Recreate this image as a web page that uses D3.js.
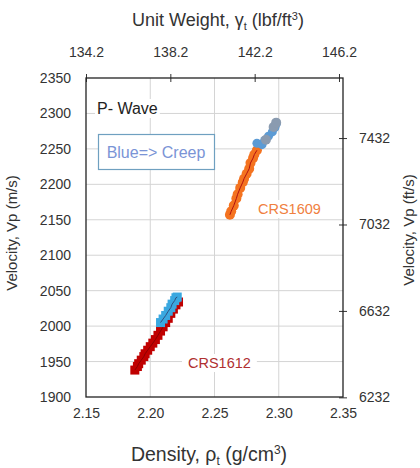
<!DOCTYPE html>
<html>
<head>
<meta charset="utf-8">
<script src="https://cdn.jsdelivr.net/npm/d3@7"></script>
<style>
  body { margin: 0; background: #fff; }
  text { font-family: "Liberation Sans", Arial, sans-serif; fill: #333; }
  .grid line { stroke: #d4d4d4; stroke-width: 1; }
  .frame { fill: none; stroke: #222; stroke-width: 1.3; }
</style>
</head>
<body>
<script>
// density (g/cm3) vs P-wave velocity (m/s)
let crs1612 = [
  [2.188, 1938], [2.190, 1943], [2.191, 1947], [2.193, 1952], [2.195, 1957],
  [2.196, 1961], [2.198, 1966], [2.200, 1971], [2.202, 1976], [2.204, 1981],
  [2.206, 1987], [2.208, 1993], [2.210, 1999], [2.212, 2005], [2.214, 2011],
  [2.216, 2018], [2.218, 2024], [2.220, 2030], [2.222, 2034]
];
let crs1612Creep = [
  [2.208, 2005], [2.210, 2010], [2.212, 2015], [2.214, 2021], [2.216, 2026],
  [2.217, 2031], [2.219, 2036], [2.220, 2040], [2.221, 2041]
];
let crs1609 = [
  [2.262, 2157], [2.263, 2162], [2.265, 2170], [2.267, 2180], [2.268, 2186],
  [2.270, 2195], [2.272, 2203], [2.273, 2208], [2.275, 2215], [2.277, 2222],
  [2.278, 2230], [2.280, 2237], [2.281, 2242], [2.283, 2248]
];
let crs1609Creep = [
  [2.283, 2258], [2.287, 2256], [2.289, 2262], [2.292, 2268], [2.295, 2274],
  [2.297, 2280], [2.298, 2285]
];
let crs1609Gray = [[2.290, 2263], [2.296, 2281], [2.298, 2287]];

let densityTicks = [2.15, 2.20, 2.25, 2.30, 2.35];
let velocityTicks = [1900, 1950, 2000, 2050, 2100, 2150, 2200, 2250, 2300, 2350];
let unitWeightTicks = [134.2, 138.2, 142.2, 146.2];
let feetTicks = [6232, 6632, 7032, 7432];

let margin = {top: 78, right: 77, bottom: 71, left: 86},
    width  = 420 - margin.left - margin.right,
    height = 468 - margin.top  - margin.bottom;

let svg = d3.select("body").append("svg")
    .attr("width", 420)
    .attr("height", 468);
let g = svg.append("g")
    .attr("transform", `translate(${margin.left}, ${margin.top})`);

let xScale = d3.scaleLinear().domain([2.15, 2.35]).range([0, width]);
let yScale = d3.scaleLinear().domain([1900, 2350]).range([height, 0]);
let topScale = d3.scaleLinear().domain([134.2, 146.39]).range([0, width]);
let ftScale = d3.scaleLinear().domain([1900 * 3.28084, 2350 * 3.28084]).range([height, 0]);

// grid
g.append("g").attr("class", "grid")
  .selectAll("line").data(velocityTicks.slice(1, -1)).enter().append("line")
    .attr("x1", 0).attr("x2", width)
    .attr("y1", d => yScale(d)).attr("y2", d => yScale(d));
g.append("g").attr("class", "grid")
  .selectAll("line").data(densityTicks.slice(1, -1)).enter().append("line")
    .attr("y1", 0).attr("y2", height)
    .attr("x1", d => xScale(d)).attr("x2", d => xScale(d));

// axes
function styleAxis(sel) {
  sel.select(".domain").remove();
  sel.selectAll("text").style("font-size", "14px").attr("fill", "#333");
  sel.selectAll("line").attr("stroke", "#333");
}
g.append("g")
    .attr("transform", `translate(0, ${height})`)
    .call(d3.axisBottom(xScale).tickValues(densityTicks).tickFormat(d3.format(".2f")).tickSize(0).tickPadding(11))
    .call(styleAxis);
g.append("g")
    .call(d3.axisLeft(yScale).tickValues(velocityTicks).tickFormat(d3.format("d")).tickSize(0).tickPadding(15))
    .call(styleAxis);
let topAx = g.append("g")
    .call(d3.axisTop(topScale).tickValues(unitWeightTicks).tickFormat(d3.format(".1f")).tickSize(4).tickPadding(17))
    .call(styleAxis);
topAx.selectAll(".tick line").attr("y2", 4).attr("y1", -4);
let rightAx = g.append("g")
    .attr("transform", `translate(${width}, 0)`)
    .call(d3.axisRight(ftScale).tickValues(feetTicks).tickFormat(d3.format("d")).tickSize(4).tickPadding(12))
    .call(styleAxis);
rightAx.selectAll(".tick line").attr("x1", -4).attr("x2", 4);

g.append("rect").attr("class", "frame")
    .attr("width", width).attr("height", height);

// series
let line = d3.line().x(d => xScale(d[0])).y(d => yScale(d[1]));

function drawSquares(data, color) {
  g.append("g").selectAll("rect").data(data).enter().append("rect")
      .attr("x", d => xScale(d[0]) - 4.5)
      .attr("y", d => yScale(d[1]) - 4.5)
      .attr("width", 9).attr("height", 9)
      .attr("fill", color);
}
function drawCircles(data, color, r) {
  g.append("g").selectAll("circle").data(data).enter().append("circle")
      .attr("cx", d => xScale(d[0]))
      .attr("cy", d => yScale(d[1]))
      .attr("r", r)
      .attr("fill", color);
}

drawSquares(crs1612, "#c00000");
g.append("path").datum(crs1612).attr("d", line)
    .attr("fill", "none").attr("stroke", "#8b0000").attr("stroke-width", 1);
drawSquares(crs1612Creep, "#3aa8e0");
g.append("path").datum(crs1612Creep).attr("d", line)
    .attr("fill", "none").attr("stroke", "#2f4f7f").attr("stroke-width", 1);

drawCircles(crs1609, "#f47320", 5);
g.append("path").datum(crs1609).attr("d", line)
    .attr("fill", "none").attr("stroke", "#b01010").attr("stroke-width", 1);
drawCircles(crs1609Creep, "#5b9bd5", 4.5);
drawCircles(crs1609Gray, "#8a9bb0", 5);

// annotations
function label(txt, x, y, color, size, pad) {
  let t = svg.append("text")
      .attr("x", x).attr("y", y)
      .style("font-size", size + "px")
      .style("fill", color)
      .text(txt);
  let b = t.node().getBBox();
  svg.insert("rect", () => t.node())
      .attr("x", b.x - pad).attr("y", b.y - 1)
      .attr("width", b.width + 2 * pad).attr("height", b.height + 2)
      .attr("fill", "#fff");
}
label("P- Wave", 97, 114, "#222", 16, 2);
label("CRS1609", 258, 214, "#f08040", 14.5, 6);
label("CRS1612", 188, 368, "#b03030", 14.5, 6);

svg.append("rect")
    .attr("x", 98.5).attr("y", 134.5).attr("width", 116).attr("height", 35)
    .attr("fill", "#fff").attr("stroke", "#6fa0c0").attr("stroke-width", 1.2);
svg.append("text").attr("x", 156).attr("y", 158)
    .attr("text-anchor", "middle").style("font-size", "16px").style("fill", "#7a94d6")
    .text("Blue=> Creep");

// axis titles
let t1 = svg.append("text").attr("x", 218).attr("y", 26)
    .attr("text-anchor", "middle").style("font-size", "18px");
t1.append("tspan").text("Unit Weight, γ");
t1.append("tspan").attr("dy", 4).style("font-size", "11px").text("t");
t1.append("tspan").attr("dy", -4).text(" (lbf/ft");
t1.append("tspan").attr("dy", -6).style("font-size", "11px").text("3");
t1.append("tspan").attr("dy", 6).text(")");

let t2 = svg.append("text").attr("x", 209).attr("y", 461)
    .attr("text-anchor", "middle").style("font-size", "19.5px");
t2.append("tspan").text("Density, ρ");
t2.append("tspan").attr("dy", 4).style("font-size", "12px").text("t");
t2.append("tspan").attr("dy", -4).text(" (g/cm");
t2.append("tspan").attr("dy", -7).style("font-size", "12px").text("3");
t2.append("tspan").attr("dy", 7).text(")");

svg.append("text")
    .attr("transform", "translate(17, 233) rotate(-90)")
    .attr("text-anchor", "middle").style("font-size", "15px")
    .text("Velocity, Vp  (m/s)");
svg.append("text")
    .attr("transform", "translate(414, 230) rotate(-90)")
    .attr("text-anchor", "middle").style("font-size", "15px")
    .text("Velocity, Vp  (ft/s)");
</script>
</body>
</html>
